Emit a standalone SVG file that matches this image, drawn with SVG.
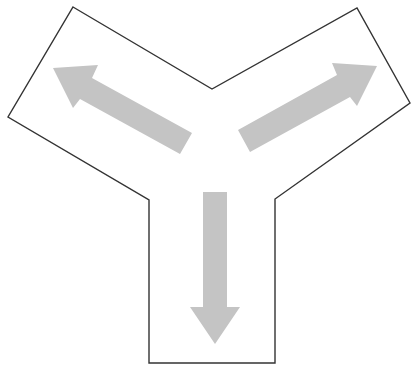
<svg xmlns="http://www.w3.org/2000/svg" width="413" height="365" viewBox="0 0 413 365">
<style>
.outline{fill:#fff;stroke:#333;stroke-width:1.4;stroke-linejoin:miter}
.arrow{fill:#c4c4c4;stroke:none}
</style>
<rect width="413" height="365" fill="#fff"/>
<g id="outline">
<polygon class="outline" points="73,7 212,89 357,8 410,103 275,199 275,363 149,363 149,200 8,117"/>
</g>
<g id="arrows">
<polygon id="arrow-left" class="arrow" points="192,133 180,154 80,99 73,108 53,68 98,65 92,78"/>
<polygon id="arrow-right" class="arrow" points="238,130 250,152 350,97 357,106 377,66 332,63 337,75"/>
<polygon id="arrow-down" class="arrow" points="203,192 227,192 227,307 240,307 215,344 190,307 203,307"/>
</g>
</svg>
